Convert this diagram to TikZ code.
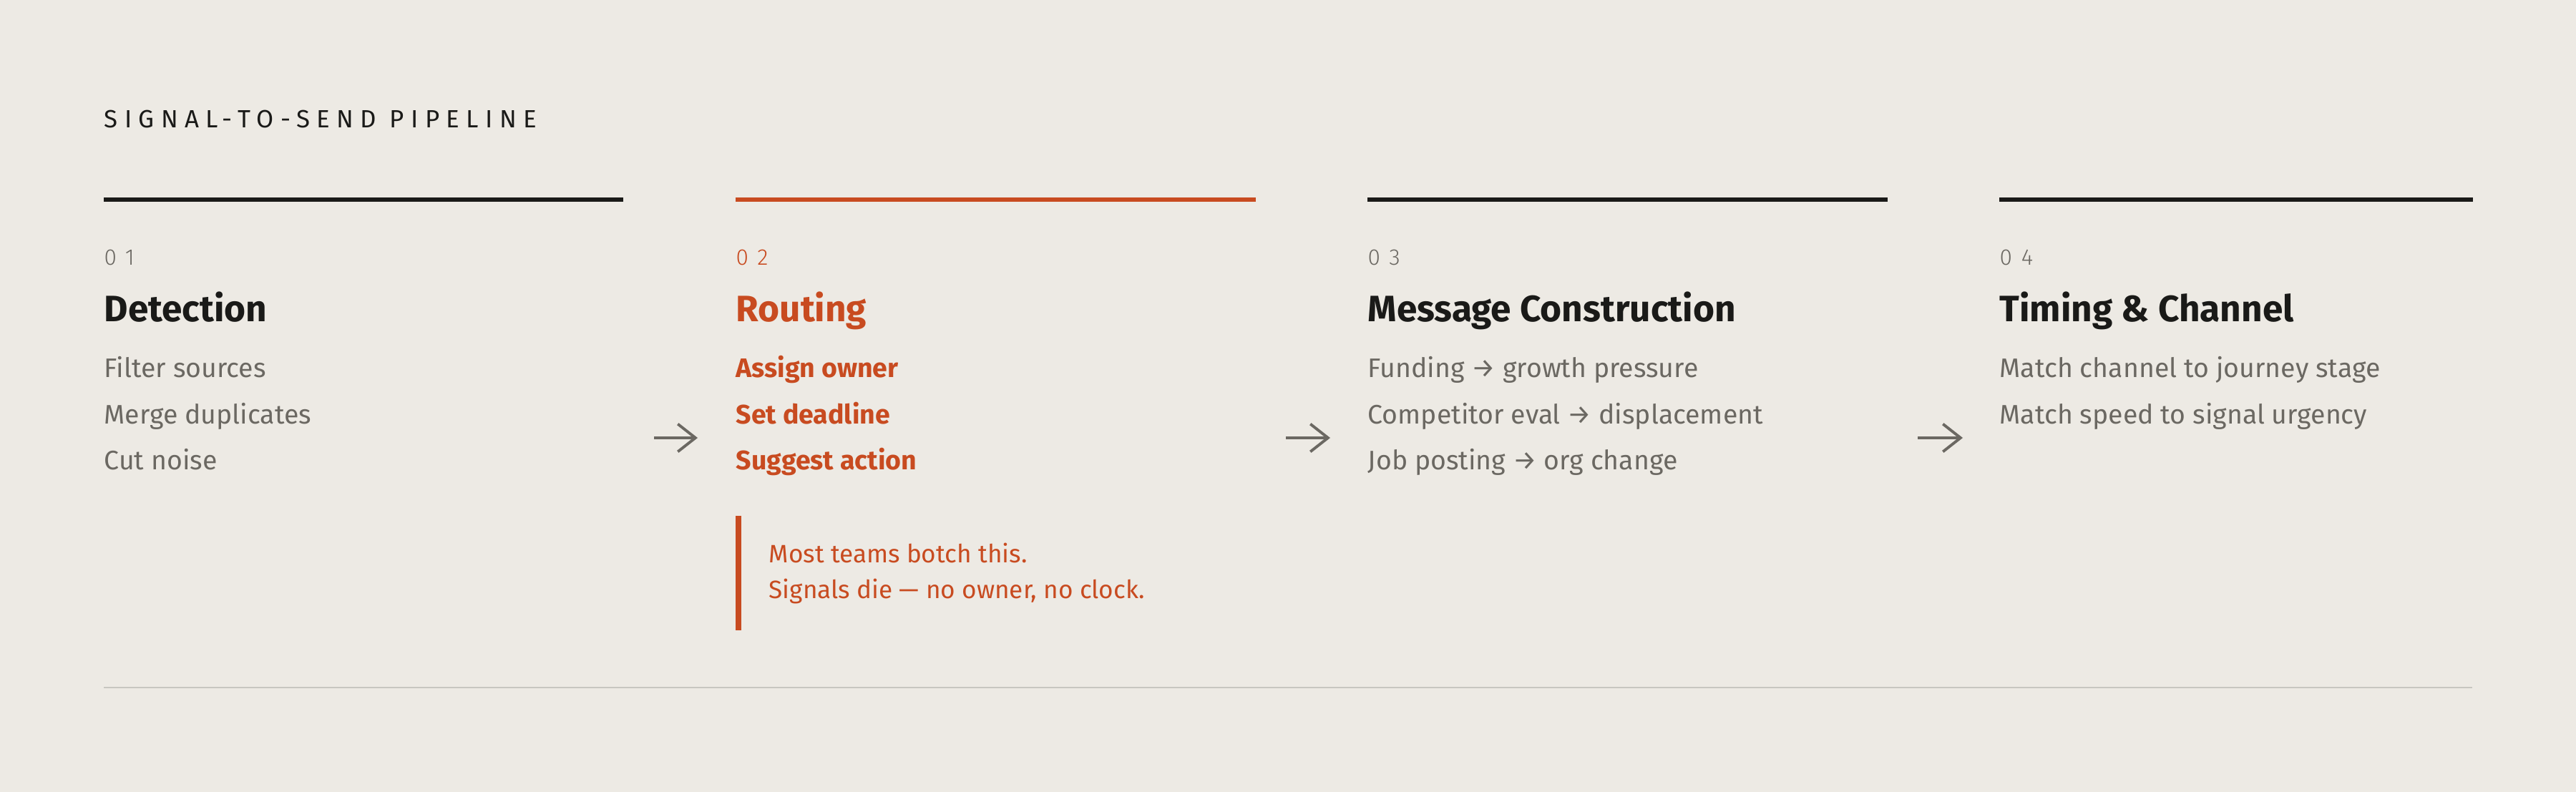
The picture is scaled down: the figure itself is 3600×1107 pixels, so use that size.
\documentclass[tikz,border=0pt]{standalone}
\usepackage{fontspec}
\setmainfont{Fira Sans}
\newfontfamily\spacedfont[LetterSpace=27]{Fira Sans}
\newfontfamily\numfont[LetterSpace=40]{Fira Sans Light}
\usepackage{tikz}
\usetikzlibrary{arrows.meta,positioning}
\usepackage{xcolor}
\definecolor{paper}{RGB}{237,234,228}
\definecolor{ink}{RGB}{26,26,24}
\definecolor{rust}{RGB}{200,75,32}
\definecolor{slate}{RGB}{107,104,98}
\definecolor{hairline}{RGB}{200,198,192}

\tikzset{
    stagebar/.style={line width=1.8pt,ink},
    stagenum/.style={anchor=base west,inner sep=0pt,text=slate,font=\numfont\fontsize{9}{11}\selectfont},
    stagehead/.style={anchor=base west,inner sep=0pt,text=ink,font=\bfseries\fontsize{14.6}{17}\selectfont},
    stageitem/.style={anchor=base west,inner sep=0pt,text=slate,font=\fontsize{10.65}{13}\selectfont},
    flowarrow/.style={-{Straight Barb[length=7pt,width=11pt]},line width=1.1pt,slate}
}

\begin{document}
\begin{tikzpicture}[x=0.01cm,y=-0.01cm]
        \fill[paper] (0,0) rectangle (3600,1107);
        \useasboundingbox (0,0) rectangle (3600,1107);

        % Title
        \node[anchor=base west,inner sep=0pt,text=ink,font=\spacedfont\fontsize{9.9}{12}\selectfont] (title) at (145,179) {SIGNAL-TO-SEND PIPELINE};

        % Stage 1
        \draw[stagebar] (145,279) -- (871,279);
        \node[stagenum] (num1) at (145,371) {01};
        \node[stagehead] (head1) at (145,450) {Detection};
        \node[stageitem] (det1) at (145,528) {Filter sources};
        \node[stageitem] (det2) at (145,593) {Merge duplicates};
        \node[stageitem] (det3) at (145,657) {Cut noise};

        % Stage 2
        \draw[stagebar,rust] (1028,279) -- (1755,279);
        \node[stagenum,text=rust] (num2) at (1028,371) {02};
        \node[stagehead,text=rust] (head2) at (1028,450) {Routing};
        \node[stageitem,text=rust,font=\bfseries\fontsize{10.65}{13}\selectfont] (rte1) at (1028,528) {Assign owner};
        \node[stageitem,text=rust,font=\bfseries\fontsize{10.65}{13}\selectfont] (rte2) at (1028,593) {Set deadline};
        \node[stageitem,text=rust,font=\bfseries\fontsize{10.65}{13}\selectfont] (rte3) at (1028,657) {Suggest action};
        \draw[rust,line width=2.3pt] (1032,721) -- (1032,881);
        \node[stageitem,text=rust,font=\fontsize{10}{12}\selectfont] (warn1) at (1074,787) {Most teams botch this.};
        \node[stageitem,text=rust,font=\fontsize{10}{12}\selectfont] (warn2) at (1074,837) {Signals die — no owner, no clock.};

        % Stage 3
        \draw[stagebar] (1911,279) -- (2638,279);
        \node[stagenum] (num3) at (1911,371) {03};
        \node[stagehead] (head3) at (1911,450) {Message Construction};
        \node[stageitem] (msg1) at (1911,528) {Funding → growth pressure};
        \node[stageitem] (msg2) at (1911,593) {Competitor eval → displacement};
        \node[stageitem] (msg3) at (1911,657) {Job posting → org change};

        % Stage 4
        \draw[stagebar] (2794,279) -- (3456,279);
        \node[stagenum] (num4) at (2794,371) {04};
        \node[stagehead] (head4) at (2794,450) {Timing \& Channel};
        \node[stageitem] (tim1) at (2794,528) {Match channel to journey stage};
        \node[stageitem] (tim2) at (2794,593) {Match speed to signal urgency};

        % Arrows between stages
        \coordinate (a1) at (914,612);
        \coordinate (b1) at (975,612);
        \coordinate (a2) at (1797,612);
        \coordinate (b2) at (1859,612);
        \coordinate (a3) at (2680,612);
        \coordinate (b3) at (2743,612);
        \draw[flowarrow] (a1) -- (b1);
        \draw[flowarrow] (a2) -- (b2);
        \draw[flowarrow] (a3) -- (b3);

        % Bottom rule
        \draw[hairline,line width=0.85pt] (145,961) -- (3455,961);
    \end{tikzpicture}
\end{document}
